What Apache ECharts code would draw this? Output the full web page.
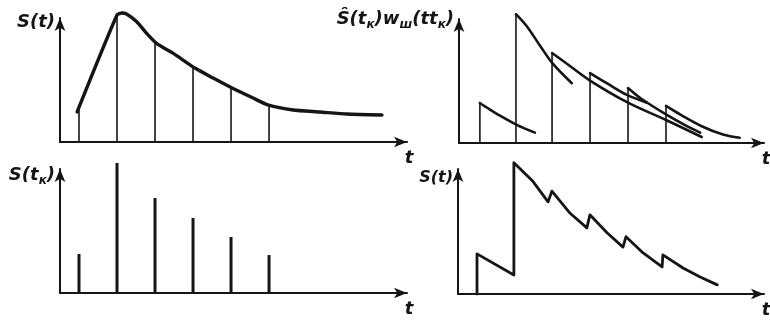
<!DOCTYPE html>
<html>
<head>
<meta charset="utf-8">
<script src="https://cdn.jsdelivr.net/npm/echarts@6/dist/echarts.min.js"></script>
<style>
  html, body { margin: 0; padding: 0; background: #fff; }
  #c { width: 770px; height: 323px; }
</style>
</head>
<body>
<div id="c"></div>
<script>
// Continuous signal S(t): time and amplitude of the drawn curve
const curveT = [0.45, 1.5, 1.63, 1.75, 2.02, 2.28, 2.54, 2.98, 3.55, 4.03, 4.53, 5.08, 5.47, 6.13, 6.84, 7.55, 8.47];
const curveS = [2.31, 9.77, 9.92, 9.85, 9.25, 8.36, 7.59, 6.82, 5.69, 4.92, 4.15, 3.38, 2.85, 2.46, 2.31, 2.15, 2.08];

// Sampling instants t_k and the value of S(t) at each of them
const sampleT = [0.5, 1.5, 2.5, 3.5, 4.5, 5.5];
const curveAtSample = [2.67, 9.77, 7.7, 5.8, 4.2, 2.83];

// Sample sequence S(t_k)
const sampleS = [3.0, 10.0, 7.31, 5.77, 4.31, 2.92];

// Shaping-filter responses: pulse instants, pulse heights and decaying tails
const pulseT = [0.55, 1.5, 2.45, 3.45, 4.45, 5.45];
const pulseS = [3.08, 9.92, 6.92, 5.38, 4.23, 2.85];
const tail1 = [[0.55, 3.08], [0.8, 2.6], [1.08, 2.1], [1.52, 1.4], [2.0, 0.8]];
const tail2 = [[1.5, 9.92], [1.78, 9.0], [2.13, 7.5], [2.47, 6.1], [2.97, 4.6]];
const tail3 = [[2.45, 6.92], [2.84, 6.1], [3.45, 4.8], [4.45, 3.1], [5.45, 1.77], [6.39, 0.46]];
const tail4 = [[3.45, 5.38], [3.89, 4.6], [4.42, 3.7], [4.95, 3.1]];
const tail5 = [[4.45, 4.23], [4.8, 3.4], [5.45, 2.2], [6.0, 1.3], [6.35, 0.8]];
const tail6 = [[5.45, 2.85], [5.82, 2.2], [6.42, 1.25], [6.95, 0.65], [7.39, 0.4]];

// Reconstructed signal: sum of the tails
const recT = [0.5, 0.5, 1.47, 1.47, 1.62, 1.76, 1.97, 2.37, 2.47, 2.95, 3.39, 3.47, 3.92, 4.34, 4.42, 4.87, 5.37, 5.39, 5.92, 6.37, 6.82];
const recS = [0, 3.08, 1.46, 10.08, 9.65, 9.25, 8.65, 7.08, 7.9, 6.2, 5.08, 6.08, 4.7, 3.6, 4.4, 3.15, 2.08, 3.0, 2.0, 1.3, 0.7];

// Axis labels
const yNames = ['{m|S(t)}', '{m|S(t}{s|к}{m|)}', '{m|Ŝ(t}{s|к}{m|)w}{s|ш}{m|(tt}{s|к}{m|)}', '{n|S(t)}'];
const xName = 't';

const ink = '#151515';
const face = { fontFamily: 'DejaVu Sans', fontStyle: 'italic', fontWeight: 'bold', color: ink };
const font = Object.assign({ fontSize: 18 }, face);
const rich = {
  m: Object.assign({ fontSize: 18, lineHeight: 24 }, face),
  n: Object.assign({ fontSize: 16, lineHeight: 22 }, face),
  s: Object.assign({ fontSize: 12, lineHeight: 12, verticalAlign: 'bottom' }, face)
};

const grids = [
  { left: 60, top: 18, width: 347, height: 124 },
  { left: 60, top: 169, width: 347, height: 124 },
  { left: 459, top: 19, width: 305, height: 124 },
  { left: 458, top: 169, width: 306, height: 125 }
];
const xMax = [9.13, 9.13, 8.03, 8.05];
const yMax = [9.54, 9.54, 9.54, 9.6];
const yNameGap = [-4, -6, 0, -9];

function axisLine() {
  return { show: true, onZero: false, symbol: ['none', 'arrow'], symbolSize: [8, 13],
           lineStyle: { color: ink, width: 2 } };
}

const xAxes = grids.map((g, i) => ({
  type: 'value', gridIndex: i, min: 0, max: xMax[i],
  name: xName, nameLocation: 'end', nameGap: 2,
  nameTextStyle: Object.assign({}, font, { align: 'center', verticalAlign: 'top', padding: [7, 0, 0, 0] }),
  axisLine: axisLine(), axisTick: { show: false }, axisLabel: { show: false }, splitLine: { show: false }
}));

const yAxes = grids.map((g, i) => ({
  type: 'value', gridIndex: i, min: 0, max: yMax[i],
  name: yNames[i], nameLocation: 'end', nameGap: yNameGap[i],
  nameTextStyle: Object.assign({}, font, { align: 'right', verticalAlign: 'middle', padding: [0, 5, 0, 0], rich: rich }),
  axisLine: axisLine(), axisTick: { show: false }, axisLabel: { show: false }, splitLine: { show: false }
}));

// Vertical stems from the time axis up to a value
function stems(idx, ts, vs, width) {
  return {
    type: 'custom', xAxisIndex: idx, yAxisIndex: idx, clip: false,
    data: ts.map((t, i) => [t, vs[i]]),
    renderItem: (params, api) => {
      const p0 = api.coord([api.value(0), 0]);
      const p1 = api.coord([api.value(0), api.value(1)]);
      return { type: 'line', shape: { x1: p0[0], y1: p0[1], x2: p1[0], y2: p1[1] },
               style: { stroke: ink, lineWidth: width } };
    }
  };
}

function curve(idx, data, width, smooth) {
  return {
    type: 'line', xAxisIndex: idx, yAxisIndex: idx, data: data, smooth: smooth,
    symbol: 'none', clip: false, lineStyle: { color: ink, width: width, cap: 'round', join: 'round' }
  };
}

const series = [
  curve(0, curveT.map((t, i) => [t, curveS[i]]), 3.4, 0.2),
  stems(0, sampleT, curveAtSample, 1.6),
  stems(1, sampleT, sampleS, 3),
  stems(2, pulseT, pulseS, 1.6),
  curve(2, tail1, 2.6, 0.35),
  curve(2, tail2, 2.6, 0.35),
  curve(2, tail3, 2.6, 0.35),
  curve(2, tail4, 2.6, 0.35),
  curve(2, tail5, 2.6, 0.35),
  curve(2, tail6, 2.6, 0.35),
  curve(3, recT.map((t, i) => [t, recS[i]]), 2.8, false)
];

const chart = echarts.init(document.getElementById('c'), null, { renderer: 'canvas' });
chart.setOption({
  animation: false,
  backgroundColor: '#fff',
  grid: grids.map(g => Object.assign({ containLabel: false, outerBoundsMode: 'none' }, g)),
  xAxis: xAxes,
  yAxis: yAxes,
  series: series
});
</script>
</body>
</html>
